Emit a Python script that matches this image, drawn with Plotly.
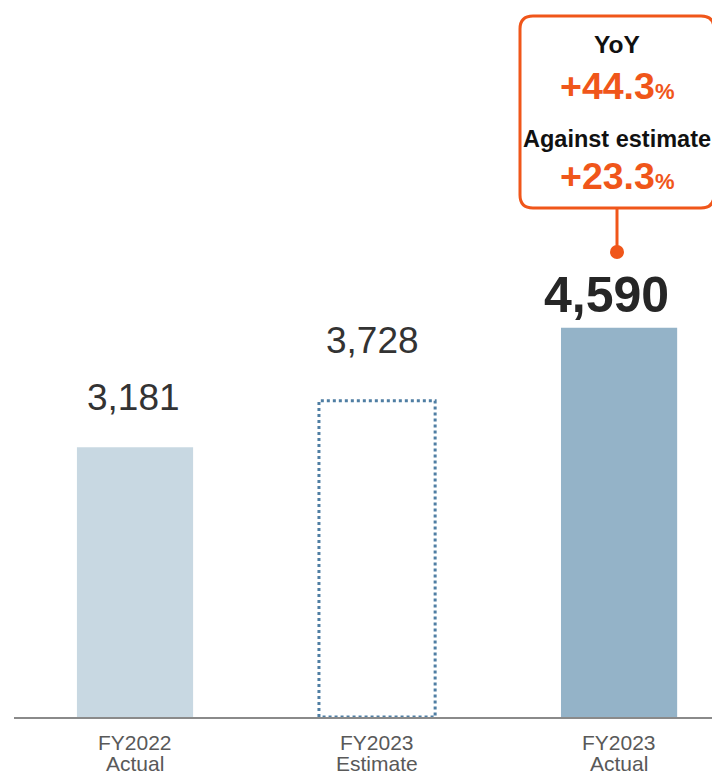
import plotly.graph_objects as go

cat_year = ["FY2022", "FY2023", "FY2023"]
cat_kind = ["Actual", "Estimate", "Actual"]
values = [3181, 3728, 4590]
value_labels = ["3,181", "3,728", "4,590"]
yoy_label = "YoY"
yoy_text = "+44.3"
est_label = "Against estimate"
est_text = "+23.3"

# page offset of the figure div (default body margin)
OX, OY = 8, 8
W, H = 712, 767
ML, MR, MT, MB = 6, 0, 0, 58
PW, PH = W - ML - MR, H - MT - MB
BAR_W = 0.48
FONT = "Liberation Sans"

def px(x):
    return (x - OX - ML) / PW

def py(y):
    return (H - MB - (y - OY)) / PH

fig = go.Figure()

fills = ["#c8d8e2", "rgba(0,0,0,0)", "#94b3c8"]
fig.add_trace(go.Bar(
    x=list(range(len(values))), y=values, width=BAR_W,
    marker=dict(color=fills, line=dict(width=0)),
    hoverinfo="skip",
))

# dotted outline for the estimate bar
i = 1
xs = [i - BAR_W / 2, i - BAR_W / 2, i + BAR_W / 2, i + BAR_W / 2, i - BAR_W / 2]
ys = [0, values[i], values[i], 0, 0]
fig.add_trace(go.Scatter(x=xs, y=ys, mode="lines",
                         line=dict(color="#4f7ea3", width=3, dash="dot"),
                         hoverinfo="skip"))

# value labels
yshifts = [50, 60, 33]
xshifts = [-2, -5, -13]
for k, (v, lab) in enumerate(zip(values, value_labels)):
    if k == 2:
        fig.add_annotation(x=k, y=v, text=f"<b>{lab}</b>", showarrow=False,
                           yanchor="middle", yshift=yshifts[k], xshift=xshifts[k],
                           font=dict(size=50, color="#262626", family=FONT))
    else:
        fig.add_annotation(x=k, y=v, text=lab, showarrow=False,
                           yanchor="middle", yshift=yshifts[k], xshift=xshifts[k],
                           font=dict(size=37, color="#333333", family=FONT))

# category labels (two tight lines)
for k, (a, b) in enumerate(zip(cat_year, cat_kind)):
    fig.add_annotation(x=k, xref="x", y=py(742), yref="paper", text=a, showarrow=False,
                       xanchor="center", yanchor="middle",
                       font=dict(size=21, color="#595959", family=FONT))
    fig.add_annotation(x=k, xref="x", y=py(764), yref="paper", text=b, showarrow=False,
                       xanchor="center", yanchor="middle",
                       font=dict(size=21, color="#595959", family=FONT))

# callout box
orange = "#f0561a"
x0, x1, y0, y1, r = 520, 714, 16, 208, 13
path = (f"M {px(x0 + r)},{py(y0)} L {px(x1 - r)},{py(y0)} "
        f"Q {px(x1)},{py(y0)} {px(x1)},{py(y0 + r)} "
        f"L {px(x1)},{py(y1 - r)} Q {px(x1)},{py(y1)} {px(x1 - r)},{py(y1)} "
        f"L {px(x0 + r)},{py(y1)} Q {px(x0)},{py(y1)} {px(x0)},{py(y1 - r)} "
        f"L {px(x0)},{py(y0 + r)} Q {px(x0)},{py(y0)} {px(x0 + r)},{py(y0)} Z")
fig.add_shape(type="path", path=path, xref="paper", yref="paper",
              line=dict(color=orange, width=3), fillcolor="white", layer="below")
fig.add_shape(type="line", xref="paper", yref="paper",
              x0=px(617), x1=px(617), y0=py(208), y1=py(252),
              line=dict(color=orange, width=3))
fig.add_shape(type="circle", xref="paper", yref="paper",
              x0=px(610), x1=px(624), y0=py(245), y1=py(259),
              line=dict(color=orange, width=0), fillcolor=orange)

cx = px(617)
box_texts = [
    (44, f"<b>{yoy_label}</b>", 24.5, "#111111"),
    (86, f"<b>{yoy_text}<span style='font-size:22px'>%</span></b>", 37.5, orange),
    (139, f"<b>{est_label}</b>", 23.5, "#111111"),
    (176, f"<b>{est_text}<span style='font-size:22px'>%</span></b>", 37.5, orange),
]
for yy, txt, sz, col in box_texts:
    fig.add_annotation(x=cx, y=py(yy), xref="paper", yref="paper", text=txt,
                       xanchor="center", yanchor="middle", showarrow=False,
                       font=dict(size=sz, color=col, family=FONT))

fig.update_layout(
    width=W, height=H, margin=dict(l=ML, r=MR, t=MT, b=MB),
    plot_bgcolor="white", paper_bgcolor="white", showlegend=False,
    font=dict(family=FONT),
    xaxis=dict(range=[-0.5, 2.417], showticklabels=False, showgrid=False, zeroline=False,
               showline=True, linecolor="#8a8a8a", linewidth=2, ticks=""),
    yaxis=dict(range=[0, 8361], visible=False, showgrid=False, zeroline=False),
)

fig.write_html("out.html")
